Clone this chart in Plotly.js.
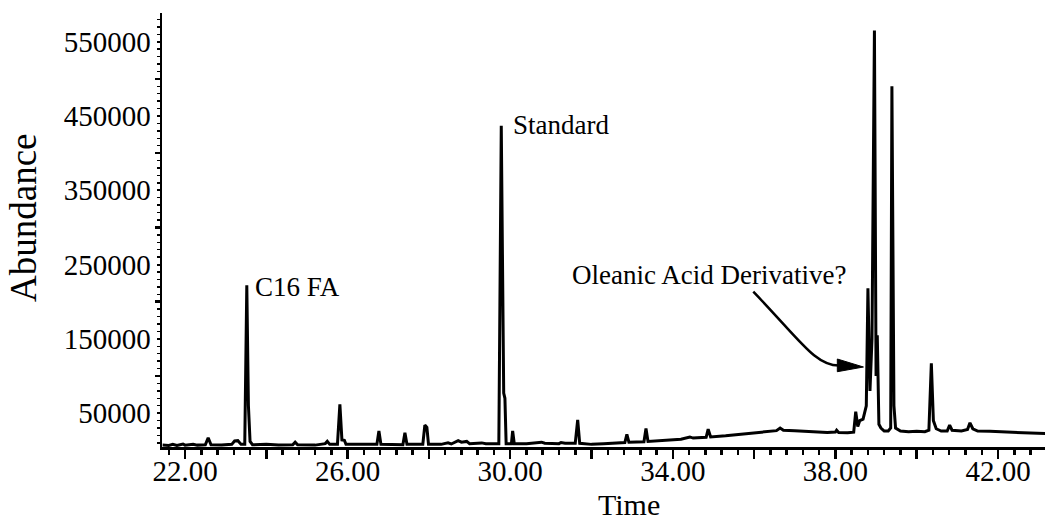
<!DOCTYPE html>
<html>
<head>
<meta charset="utf-8">
<script src="https://cdn.plot.ly/plotly-3.0.1.min.js"></script>
<style>html,body{margin:0;padding:0;background:#fff;}#chart{width:1047px;height:521px;}</style>
</head>
<body>
<div id="chart"></div>
<script>
// Chromatogram (time in min, abundance in counts)
const time = [
  21.45, 21.6, 21.7, 21.8, 21.95, 22.0, 22.2, 22.3, 22.5, 22.57, 22.64,
  22.9, 23.15, 23.22, 23.3, 23.38, 23.47, 23.52, 23.56, 23.6, 23.66,
  24.0, 24.3, 24.65, 24.71, 24.77, 25.2, 25.45, 25.5, 25.56,
  25.75, 25.81, 25.86, 25.92, 25.96, 26.3, 26.6, 26.72, 26.77, 26.82,
  27.2, 27.36, 27.41, 27.46, 27.85, 27.9, 27.95, 27.99,
  28.3, 28.47, 28.55, 28.72, 28.8, 28.93, 29.0, 29.3, 29.4,
  29.72, 29.78, 29.81, 29.84, 29.87, 29.9, 29.95, 30.03, 30.06, 30.1,
  30.4, 30.77, 30.85, 31.2, 31.25, 31.35, 31.6, 31.66, 31.71,
  32.0, 32.3, 32.6, 32.82, 32.87, 32.92, 33.29, 33.34, 33.39,
  33.7, 34.0, 34.2, 34.42, 34.5, 34.6, 34.82, 34.87, 34.93,
  35.3, 35.7, 36.0, 36.3, 36.55, 36.64, 36.72, 37.0, 37.4, 37.8,
  38.0, 38.03, 38.08, 38.3, 38.45, 38.5, 38.55, 38.6, 38.68, 38.76,
  38.8, 38.85, 38.9, 38.96, 39.0, 39.03, 39.07, 39.12, 39.2, 39.3,
  39.36, 39.39, 39.44, 39.48, 39.6, 39.8, 40.0, 40.2, 40.3, 40.36,
  40.41, 40.48, 40.56, 40.6, 40.75, 40.81, 40.87, 41.1, 41.25, 41.31,
  41.38, 41.5, 41.8, 42.0, 42.2, 42.5, 42.8, 43.16
];
const abundance = [
  7000, 6500, 8000, 6500, 8500, 7000, 8000, 7000, 7500, 17000, 7500,
  7000, 8000, 12500, 13000, 8000, 8000, 222000, 60000, 12000, 7500,
  8000, 7000, 7500, 11000, 7500, 7000, 9000, 12000, 8000,
  8000, 62000, 14000, 13500, 8000, 7500, 8000, 8000, 26000, 8000,
  7500, 7500, 23500, 8000, 8000, 34000, 31000, 8000,
  8000, 10000, 8500, 13000, 11000, 12000, 9000, 10000, 9000,
  9000, 437000, 300000, 77000, 70000, 9000, 9000, 9000, 26000, 9000,
  9000, 11000, 9500, 9000, 10500, 9500, 9500, 41000, 9500,
  8000, 9000, 10000, 10500, 21500, 11000, 11500, 29500, 12000,
  13000, 14000, 15000, 18000, 16500, 17000, 17500, 28500, 18000,
  19500, 22000, 23500, 25000, 26500, 30000, 27000, 26500, 25000, 24000,
  24500, 27000, 24000, 23500, 24500, 52000, 32000, 40000, 42000, 60000,
  218000, 80000, 150000, 565000, 100000, 155000, 35000, 30000, 26000, 26000,
  30000, 490000, 60000, 30000, 26000, 25000, 25500, 25000, 27000, 117000,
  40000, 29000, 27000, 26000, 26000, 34000, 27000, 26000, 28000, 37000,
  29000, 26000, 25500, 25000, 24000, 23500, 23000, 22500
];

const xTickVals = [22, 24, 26, 28, 30, 32, 34, 36, 38, 40, 42];
const xTickText = ['22.00', '', '26.00', '', '30.00', '', '34.00', '', '38.00', '', '42.00'];
const yTickVals = [50000, 150000, 250000, 350000, 450000, 550000];
const yTickText = ['50000', '150000', '250000', '350000', '450000', '550000'];
const yLongTicks = [100000, 200000, 300000, 400000, 500000];

const labels = ['C16 FA', 'Standard', 'Oleanic Acid Derivative?'];

const xRange = [21.434, 43.156];
const yRange = [4466, 588630];
const FONT = 'Liberation Serif, Times New Roman, serif';

const traces = [
  {x: time, y: abundance, type: 'scatter', mode: 'lines',
   line: {color: '#000', width: 3}, hoverinfo: 'skip', showlegend: false},
  {x: time, y: abundance, type: 'scatter', mode: 'lines', yaxis: 'y2',
   line: {color: 'rgba(0,0,0,0)', width: 0}, hoverinfo: 'skip', showlegend: false}
];

const layout = {
  width: 1047, height: 521,
  margin: {l: 162, r: 2, t: 13, b: 74},
  paper_bgcolor: '#fff', plot_bgcolor: '#fff',
  showlegend: false,
  font: {family: FONT, color: '#000'},
  xaxis: {
    range: xRange, showgrid: false, zeroline: false,
    showline: true, linecolor: '#000', linewidth: 2.5,
    ticks: 'outside', ticklen: 9, tickwidth: 2.5, tickcolor: '#000',
    tickvals: xTickVals, ticktext: xTickText,
    ticklabelstandoff: -12,
    tickfont: {family: FONT, size: 29, color: '#000'},
    minor: {dtick: 0.4, tick0: 22, ticks: 'outside', ticklen: 5, tickwidth: 2.5, tickcolor: '#000'}
  },
  yaxis: {
    range: yRange, showgrid: false, zeroline: false,
    showline: true, linecolor: '#000', linewidth: 2.5,
    ticks: 'outside', ticklen: 3, tickwidth: 2, tickcolor: '#000',
    tickvals: yTickVals, ticktext: yTickText,
    tickfont: {family: FONT, size: 29, color: '#000'},
    minor: {dtick: 10000, tick0: 0, ticks: 'outside', ticklen: 2.5, tickwidth: 1.5, tickcolor: '#000'}
  },
  yaxis2: {
    range: yRange, overlaying: 'y', side: 'left', anchor: 'x',
    showgrid: false, zeroline: false, showline: false,
    ticks: 'outside', ticklen: 6, tickwidth: 2.5, tickcolor: '#000',
    tickvals: yLongTicks, showticklabels: false
  },
  shapes: [
    {type: 'path', xref: 'x', yref: 'y',
     path: 'M 35.98,213500 C 37.13,148500 37.50,113500 38.10,114000',
     line: {color: '#000', width: 2.5}},
    {type: 'path', xref: 'x', yref: 'y',
     path: 'M 38.047,122900 L 38.69,112150 L 38.047,105800 Z',
     fillcolor: '#000', line: {color: '#000', width: 1}}
  ],
  annotations: [
    {x: 23.67, y: 220200, xref: 'x', yref: 'y', text: labels[0], showarrow: false,
     xanchor: 'left', yanchor: 'middle', font: {family: FONT, size: 27, color: '#000'}},
    {x: 30.02, y: 437900, xref: 'x', yref: 'y', text: labels[1], showarrow: false,
     xanchor: 'left', yanchor: 'middle', font: {family: FONT, size: 27, color: '#000'}},
    {x: 34.90, y: 236000, xref: 'x', yref: 'y', text: labels[2], showarrow: false,
     xanchor: 'center', yanchor: 'middle', font: {family: FONT, size: 27, color: '#000'}},
    {x: -0.1563, y: 0.530, xref: 'paper', yref: 'paper', text: 'Abundance', showarrow: false,
     textangle: -90, xanchor: 'center', yanchor: 'middle', font: {family: FONT, size: 37, color: '#000'}},
    {x: 0.5289, y: -0.132, xref: 'paper', yref: 'paper', text: 'Time', showarrow: false,
     xanchor: 'center', yanchor: 'middle', font: {family: FONT, size: 30, color: '#000'}}
  ]
};

Plotly.newPlot('chart', traces, layout, {staticPlot: true, displayModeBar: false});
</script>
</body>
</html>
